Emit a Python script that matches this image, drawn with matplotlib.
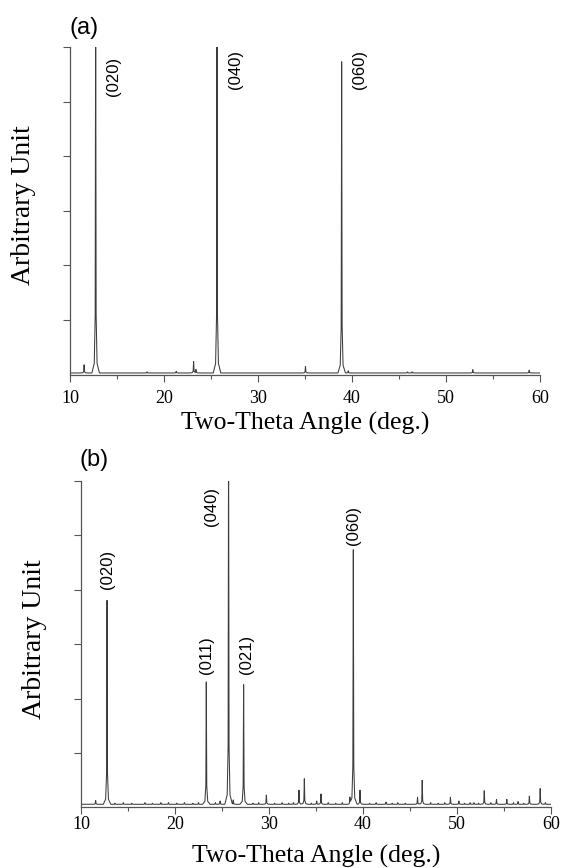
import matplotlib
matplotlib.use("Agg")
import matplotlib.pyplot as plt
from matplotlib.ticker import MultipleLocator
import numpy as np

# ---------------- data ----------------
a_base = 0.03
a_peak_pos = [11.5, 12.73, 18.2, 21.3, 23.15, 23.4, 25.64, 35.05, 38.9, 39.6, 45.9, 46.4, 52.85, 58.85]
a_peak_hgt = [0.15, 7.0, 0.02, 0.03, 0.21, 0.06, 7.0, 0.12, 5.70, 0.04, 0.02, 0.02, 0.06, 0.05]

b_base = 0.055
b_peak_pos = [11.56, 12.77, 16.8, 23.33, 24.8, 25.7, 26.2, 27.3, 29.72, 33.19, 33.76, 35.07, 35.53,
              38.6, 38.97, 39.68, 42.45, 45.8, 46.3, 49.3, 50.2, 52.9, 54.2, 55.3, 56.5, 57.7, 58.85]
b_peak_hgt = [0.07, 3.75, 0.03, 2.25, 0.06, 7.0, 0.08, 2.20, 0.17, 0.26, 0.47, 0.06, 0.19,
              0.12, 4.68, 0.26, 0.04, 0.13, 0.44, 0.13, 0.06, 0.25, 0.09, 0.09, 0.05, 0.15, 0.29]
# small baseline wiggles seen in pattern (b)
b_bump_pos = [13.6, 14.5, 15.4, 17.6, 18.5, 19.3, 20.2, 21.0, 21.9, 22.5, 24.3, 28.3, 28.9,
              30.6, 31.4, 32.1, 32.6, 34.5, 36.3, 37.1, 37.8, 40.7, 41.4, 43.1, 43.7, 44.5,
              47.2, 48.0, 48.7, 50.8, 51.4, 51.8, 52.3, 53.6, 56.0, 57.1, 59.4]
b_bump_hgt = [0.02, 0.03, 0.02, 0.02, 0.03, 0.03, 0.02, 0.03, 0.02, 0.03, 0.03, 0.02, 0.03,
              0.02, 0.03, 0.02, 0.03, 0.02, 0.03, 0.02, 0.03, 0.02, 0.03, 0.02, 0.03, 0.02,
              0.03, 0.02, 0.03, 0.02, 0.03, 0.03, 0.02, 0.03, 0.03, 0.02, 0.03]

a_labels = ["(020)", "(040)", "(060)"]
a_label_x = [14.6, 27.63, 40.85]
a_label_y = [5.46, 5.58, 5.58]

b_labels = ["(020)", "(011)", "(040)", "(021)", "(060)"]
b_label_x = [12.8, 23.36, 23.83, 27.6, 38.97]
b_label_y = [4.38, 2.79, 5.54, 2.82, 5.18]

x_ticks = [10, 20, 30, 40, 50, 60]
y_ticks = [1, 2, 3, 4, 5, 6]
x_label = "Two-Theta Angle (deg.)"
y_label = "Arbitrary Unit"
panel_tags = ["(a)", "(b)"]

# ---------------- helpers ----------------
OFFS = np.array([-0.4, -0.15, -0.05, 0.0, 0.05, 0.15, 0.4])
REL = np.array([0.0, 0.025, 0.15, 1.0, 0.15, 0.025, 0.0])


def build_trace(base, pos, hgt):
    pts = [10.0, 60.0]
    for p in pos:
        pts.extend(list(p + OFFS))
    xs = np.unique(np.clip(pts, 10, 60))
    ys = np.full_like(xs, base)
    for p, h in zip(pos, hgt):
        ys = ys + np.interp(xs, p + OFFS, h * REL, left=0.0, right=0.0)
    return xs, ys


SERIF = "Liberation Serif"
SANS = "Liberation Sans"
LINE_C = "#3c3c3c"
AX_C = "#555555"

W, H = 563, 868
fig = plt.figure(figsize=(W / 100, H / 100), dpi=100)


def px_rect(l, r, t, b):
    return [l / W, 1 - b / H, (r - l) / W, (b - t) / H]


def style_axes(ax, pad):
    for s in ["top", "right"]:
        ax.spines[s].set_visible(False)
    for s in ["left", "bottom"]:
        ax.spines[s].set_color(AX_C)
        ax.spines[s].set_linewidth(0.9)
    ax.set_xlim(10, 60)
    ax.set_ylim(0, 6)
    ax.set_xticks(x_ticks)
    ax.xaxis.set_minor_locator(MultipleLocator(5))
    ax.set_yticks(y_ticks)
    ax.set_yticklabels([])
    ax.tick_params(axis="x", which="major", direction="out", length=5, width=0.8,
                   color=AX_C, pad=pad, labelsize=13)
    ax.tick_params(axis="x", which="minor", direction="out", length=3, width=0.8, color=AX_C)
    ax.tick_params(axis="y", which="major", direction="out", length=5, width=0.8, color=AX_C)
    for lab in ax.get_xticklabels():
        lab.set_fontfamily(SERIF)


# ---- panel (a)
axa = fig.add_axes(px_rect(70, 540, 47, 374.6))
style_axes(axa, pad=6)
xa, ya = build_trace(a_base, a_peak_pos, a_peak_hgt)
axa.plot(xa, ya, color=LINE_C, lw=0.75)
for t, x, y in zip(a_labels, a_label_x, a_label_y):
    axa.text(x, y, t, rotation=90, ha="center", va="center", fontsize=12, family=SANS)

# ---- panel (b)
axb = fig.add_axes(px_rect(81, 551, 481, 807.3))
style_axes(axb, pad=1.5)
all_b_pos = b_peak_pos + b_bump_pos
all_b_hgt = b_peak_hgt + b_bump_hgt
xb, yb = build_trace(b_base, all_b_pos, all_b_hgt)
axb.plot(xb, yb, color=LINE_C, lw=0.75)
for t, x, y in zip(b_labels, b_label_x, b_label_y):
    axb.text(x, y, t, rotation=90, ha="center", va="center", fontsize=12, family=SANS)

# ---- figure texts
fig.text(84.5 / W, 1 - 28 / H, panel_tags[0], ha="center", va="center", fontsize=17, family=SANS)
fig.text(94.5 / W, 1 - 459.7 / H, panel_tags[1], ha="center", va="center", fontsize=17, family=SANS)

fig.text(305 / W, 1 - 430 / H, x_label, ha="center", va="baseline", fontsize=18.5, family=SERIF)
fig.text(316 / W, 1 - 863 / H, x_label, ha="center", va="baseline", fontsize=18.5, family=SERIF)

fig.text(24 / W, 1 - 205 / H, y_label, rotation=90, ha="center", va="center", fontsize=20, family=SERIF)
fig.text(35 / W, 1 - 639 / H, y_label, rotation=90, ha="center", va="center", fontsize=20, family=SERIF)

fig.savefig("out.png", dpi=100)
